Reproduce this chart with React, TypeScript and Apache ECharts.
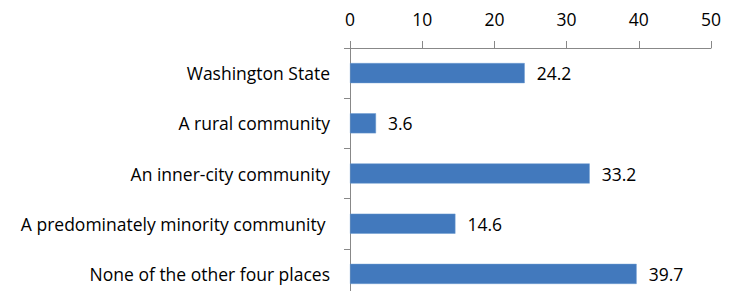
import React, { useEffect, useRef } from "react";
import * as echarts from "echarts";

const categories = [
  "Washington State",
  "A rural community",
  "An inner-city community",
  "A predominately minority community ",
  "None of the other four places",
];
const values = [24.2, 3.6, 33.2, 14.6, 39.7];
const xTicks = { min: 0, max: 50, interval: 10 };

const FONT = "'Open Sans', Lato, sans-serif";
const AXIS_COLOR = "#888888";

export default function App() {
  const ref = useRef<HTMLDivElement>(null);
  useEffect(() => {
    if (!ref.current) return;
    const chart = echarts.init(ref.current, undefined, { renderer: "svg" });
    chart.setOption({
      animation: false,
      grid: { left: 350, right: 21, top: 48, bottom: 0, containLabel: false },
      xAxis: {
        type: "value",
        position: "top",
        min: xTicks.min,
        max: xTicks.max,
        interval: xTicks.interval,
        axisLine: { show: true, lineStyle: { color: AXIS_COLOR, width: 1 } },
        axisTick: { show: true, length: 7, lineStyle: { color: AXIS_COLOR } },
        axisLabel: { color: "#000", fontSize: 17.5, fontFamily: FONT, margin: 20 },
        splitLine: { show: false },
      },
      yAxis: {
        type: "category",
        data: categories,
        inverse: true,
        axisLine: { show: true, lineStyle: { color: AXIS_COLOR, width: 1 } },
        axisTick: { show: true, length: 6, alignWithLabel: false, lineStyle: { color: AXIS_COLOR } },
        axisLabel: { color: "#000", fontSize: 17.5, fontFamily: FONT, margin: 20 },
      },
      series: [
        {
          type: "bar",
          data: values,
          barCategoryGap: "60%",
          itemStyle: { color: "#4279BD", borderColor: "#6A9AD0", borderWidth: 0.5 },
          label: {
            show: true,
            position: "right",
            distance: 12,
            color: "#000",
            fontSize: 17.5,
            fontFamily: FONT,
            formatter: (p: any) => p.value.toFixed(1),
          },
        },
      ],
    });
    return () => chart.dispose();
  }, []);
  return <div ref={ref} style={{ width: 732, height: 299, margin: -8 }} />;
}
